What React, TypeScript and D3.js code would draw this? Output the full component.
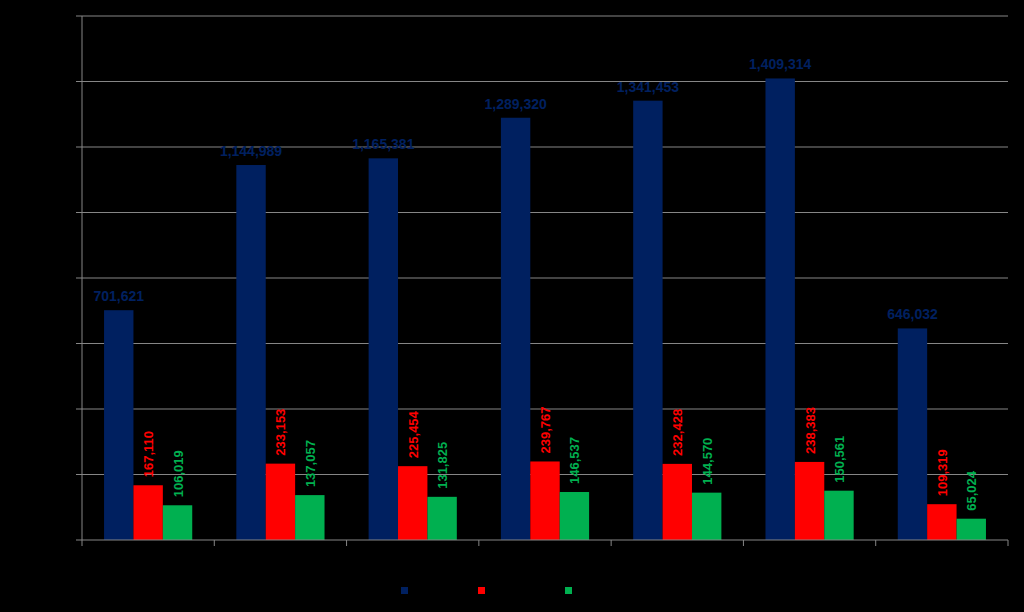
import React from "react";
import * as d3 from "d3";

const categories = ["1", "2", "3", "4", "5", "6", "7"];
const seriesNames = ["Series 1", "Series 2", "Series 3"];
const seriesColors = ["#002060", "#FF0000", "#00B050"];
const navyValues = [701621, 1144989, 1165381, 1289320, 1341453, 1409314, 646032];
const redValues = [167110, 233153, 225454, 239767, 232428, 238383, 109319];
const greenValues = [106019, 137057, 131825, 146537, 144570, 150561, 65024];
const yTicks = [0, 200000, 400000, 600000, 800000, 1000000, 1200000, 1400000, 1600000];

const W = 1024;
const H = 612;
const M = { left: 82, right: 1008, top: 16, bottom: 540 };

export default function App() {
  const series = [navyValues, redValues, greenValues];
  const x = d3.scaleBand<string>().domain(categories).range([M.left, M.right]).paddingInner(0).paddingOuter(0);
  const bw = x.bandwidth() / 4.5;
  const y = d3.scaleLinear().domain([0, 1600000]).range([M.bottom, M.top]);
  const fmt = d3.format(",");
  const gridColor = "#868686";
  const font = "'Liberation Sans', Arial, sans-serif";

  return (
    <svg width={W} height={H} style={{ position: "absolute", left: 0, top: 0, background: "#000" }}>
      <rect x={0} y={0} width={W} height={H} fill="#000" />
      {yTicks.map((t) => (
        <g key={t}>
          {t > 0 && <line x1={M.left} x2={M.right} y1={y(t)} y2={y(t)} stroke={gridColor} strokeWidth={1} />}
          <line x1={M.left - 6} x2={M.left} y1={y(t)} y2={y(t)} stroke={gridColor} strokeWidth={1} />
          <text x={M.left - 9} y={y(t) + 4} textAnchor="end" fontSize={12} fill="#000" fontFamily={font}>
            {fmt(t)}
          </text>
        </g>
      ))}
      {series.map((vals, si) =>
        vals.map((v, i) => {
          const x0 = (x(categories[i]) as number) + bw * 0.75 + si * bw;
          return (
            <rect key={`${si}-${i}`} x={x0} y={y(v)} width={bw} height={y(0) - y(v)} fill={seriesColors[si]} />
          );
        })
      )}
      <line x1={M.left} x2={M.left} y1={M.top} y2={M.bottom} stroke={gridColor} strokeWidth={1} />
      <line x1={M.left} x2={M.right} y1={M.bottom} y2={M.bottom} stroke={gridColor} strokeWidth={1} />
      {[...categories.map((c) => x(c) as number), M.right].map((tx, i) => (
        <line key={i} x1={tx} x2={tx} y1={M.bottom} y2={M.bottom + 6} stroke={gridColor} strokeWidth={1} />
      ))}
      {categories.map((c) => (
        <text key={c} x={(x(c) as number) + x.bandwidth() / 2} y={M.bottom + 20} textAnchor="middle" fontSize={12} fill="#000" fontFamily={font}>
          {c}
        </text>
      ))}
      {navyValues.map((v, i) => {
        const cx = (x(categories[i]) as number) + bw * 0.75 + bw / 2;
        return (
          <text key={`n${i}`} x={cx} y={y(v) - 9} textAnchor="middle" fontSize={14} fontWeight="bold" fill={seriesColors[0]} fontFamily={font}>
            {fmt(v)}
          </text>
        );
      })}
      {[redValues, greenValues].map((vals, k) =>
        vals.map((v, i) => {
          const si = k + 1;
          const cx = (x(categories[i]) as number) + bw * 0.75 + si * bw + bw / 2;
          const ty = y(v) - 8;
          return (
            <text key={`r${k}-${i}`} transform={`translate(${cx + 5},${ty}) rotate(-90)`} textAnchor="start" fontSize={13} fontWeight="bold" fill={seriesColors[si]} fontFamily={font}>
              {fmt(v)}
            </text>
          );
        })
      )}
      {seriesNames.map((n, i) => {
        const lx = [401, 478, 565][i];
        return (
          <g key={n}>
            <rect x={lx} y={587} width={7} height={7} fill={seriesColors[i]} />
            <text x={lx + 11} y={594} fontSize={12} fill="#000" fontFamily={font}>{n}</text>
          </g>
        );
      })}
    </svg>
  );
}
